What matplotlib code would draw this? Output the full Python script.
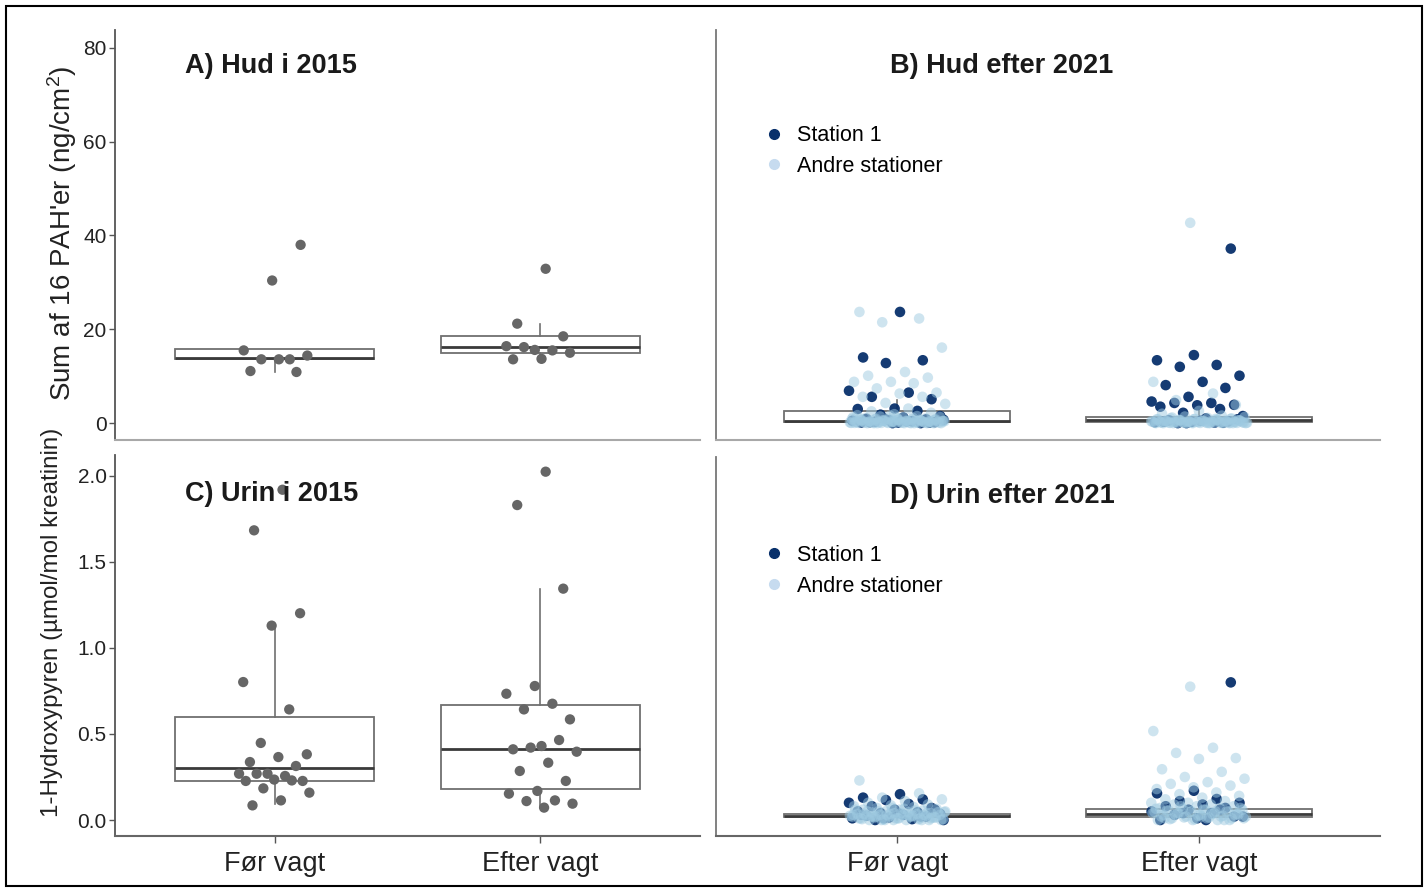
import numpy as np
import matplotlib
matplotlib.use("Agg")
import matplotlib.pyplot as plt
from matplotlib.lines import Line2D
from matplotlib.patches import Rectangle

plt.rcParams['font.family'] = ['Liberation Sans', 'DejaVu Sans']
plt.rcParams['mathtext.fontset'] = 'custom'
plt.rcParams['mathtext.rm'] = 'Liberation Sans'
plt.rcParams['mathtext.it'] = 'Liberation Sans:italic'

# ---- data ----
groups = ["Før vagt", "Efter vagt"]

# A) skin 2015
hud15_for = [38.0, 30.4, 15.5, 13.6, 13.6, 14.4, 13.6, 11.1, 10.9]
hud15_efter = [32.9, 21.2, 18.5, 15.6, 16.4, 15.5, 16.2, 15.0, 13.7, 13.6]

# C) urine 2015
urin15_for = [1.92, 1.684, 1.202, 1.130, 0.802, 0.643, 0.448, 0.382, 0.366, 0.337,
              0.314, 0.269, 0.269, 0.256, 0.269, 0.227, 0.235, 0.227, 0.23, 0.184,
              0.159, 0.114, 0.085]
urin15_efter = [2.025, 1.831, 1.345, 0.779, 0.734, 0.676, 0.643, 0.585, 0.430, 0.411,
                0.465, 0.421, 0.397, 0.333, 0.285, 0.227, 0.169, 0.153, 0.114, 0.11,
                0.095, 0.072]

# B) skin after 2021
hud21_for_st1 = [23.7, 14.0, 13.4, 12.8, 6.9, 6.5, 5.6, 5.1, 3.1, 3.0, 2.6, 1.8,
                 1.5, 1.2, 0.9, 0.8, 0.6, 0.5, 0.4, 0.3, 0.2, 0.1, 0.1, 0.0,
                 1.0, 0.7, 0.4, 0.2, 0.1, 0.0]
hud21_for_andre = [23.7, 22.3, 21.5, 16.1, 10.9, 10.1, 9.7, 8.8, 8.8, 8.5, 7.4, 6.5,
                   6.3, 5.6, 5.6, 4.3, 4.1, 3.1, 2.5, 2.2, 1.9, 1.7, 1.5, 1.4, 1.3,
                   1.2, 1.1, 1.0, 0.9, 0.9, 0.8, 0.8, 0.7, 0.7, 0.6, 0.6, 0.5, 0.5,
                   0.5, 0.4, 0.4, 0.4, 0.3, 0.3, 0.3, 0.3, 0.2, 0.2, 0.2, 0.2, 0.15,
                   0.1, 0.1, 0.1, 0.1, 0.05, 0.05, 0.05, 0.0, 0.0, 0.0, 0.0,
                   1.6, 1.3, 1.1, 0.9, 0.8, 0.7, 0.6, 0.5, 0.5, 0.4, 0.4, 0.3, 0.3,
                   0.3, 0.2, 0.2, 0.2, 0.1, 0.1, 0.1, 0.1, 0.05, 0.05, 0.0, 0.0, 0.0,
                   1.2, 0.9, 0.7, 0.6, 0.4, 0.3, 0.2, 0.15, 0.1, 0.05, 0.0, 0.0]
hud21_efter_st1 = [37.2, 14.5, 13.4, 12.4, 12.0, 10.1, 8.8, 8.1, 7.5, 5.6, 4.6, 4.3,
                   4.3, 3.9, 3.8, 3.5, 3.0, 2.2, 1.5, 1.0, 0.6, 0.4, 0.3, 0.2, 0.1, 0.0,
                   0.8, 0.5, 0.3, 0.1, 0.0]
hud21_efter_andre = [42.7, 8.8, 6.3, 4.9, 3.9, 2.6, 2.0, 1.6, 1.4, 1.3, 1.1, 1.0, 0.9,
                     0.8, 0.8, 0.7, 0.6, 0.6, 0.5, 0.5, 0.5, 0.4, 0.4, 0.4, 0.3, 0.3,
                     0.3, 0.3, 0.2, 0.2, 0.2, 0.2, 0.15, 0.1, 0.1, 0.1, 0.1, 0.05,
                     0.05, 0.05, 0.0, 0.0, 0.0, 0.0, 0.0,
                     1.2, 1.0, 0.9, 0.8, 0.7, 0.6, 0.5, 0.5, 0.4, 0.4, 0.3, 0.3, 0.3,
                     0.2, 0.2, 0.2, 0.1, 0.1, 0.1, 0.1, 0.05, 0.05, 0.0, 0.0, 0.0,
                     0.9, 0.7, 0.6, 0.4, 0.3, 0.2, 0.15, 0.1, 0.05, 0.0, 0.0]

# D) urine after 2021
urin21_for_st1 = [0.15, 0.13, 0.12, 0.116, 0.10, 0.093, 0.08, 0.07, 0.06, 0.05, 0.045,
                  0.04, 0.035, 0.03, 0.025, 0.02, 0.015, 0.01, 0.005, 0.0,
                  0.06, 0.04, 0.03, 0.02, 0.01, 0.0]
urin21_for_andre = [0.23, 0.155, 0.13, 0.12, 0.11, 0.10, 0.09, 0.085, 0.08, 0.075,
                    0.07, 0.065, 0.06, 0.06, 0.055, 0.05, 0.05, 0.045, 0.045, 0.04,
                    0.04, 0.035, 0.035, 0.03, 0.03, 0.03, 0.025, 0.025, 0.02, 0.02,
                    0.02, 0.015, 0.015, 0.01, 0.01, 0.01, 0.005, 0.005, 0.0, 0.0, 0.0,
                    0.07, 0.06, 0.055, 0.05, 0.045, 0.04, 0.035, 0.03, 0.03, 0.025,
                    0.02, 0.02, 0.015, 0.01, 0.01, 0.005, 0.0, 0.0,
                    0.065, 0.05, 0.04, 0.035, 0.03, 0.025, 0.02, 0.015, 0.01, 0.005,
                    0.0, 0.0, 0.045, 0.03, 0.02, 0.01, 0.0]
urin21_efter_st1 = [0.80, 0.17, 0.155, 0.122, 0.11, 0.10, 0.09, 0.08, 0.07, 0.06,
                    0.05, 0.04, 0.03, 0.02, 0.01, 0.0, 0.06, 0.04, 0.02, 0.0]
urin21_efter_andre = [0.775, 0.517, 0.42, 0.39, 0.36, 0.355, 0.295, 0.28, 0.25, 0.24,
                      0.22, 0.21, 0.20, 0.19, 0.18, 0.16, 0.15, 0.14, 0.13, 0.12,
                      0.11, 0.10, 0.10, 0.09, 0.09, 0.08, 0.08, 0.07, 0.07, 0.065,
                      0.06, 0.06, 0.055, 0.05, 0.05, 0.045, 0.04, 0.04, 0.035, 0.03,
                      0.03, 0.025, 0.02, 0.02, 0.015, 0.01, 0.01, 0.005, 0.0, 0.0,
                      0.08, 0.07, 0.06, 0.055, 0.05, 0.045, 0.04, 0.035, 0.03, 0.03,
                      0.025, 0.02, 0.02, 0.015, 0.01, 0.01, 0.005, 0.0, 0.0,
                      0.065, 0.05, 0.04, 0.03, 0.02, 0.01, 0.0]

# box statistics: (whislo, q1, med, q3, whishi)
box_hud15 = [(11.0, 13.7, 13.9, 15.7, 15.7), (13.6, 15.0, 16.2, 18.5, 21.2)]
box_urin15 = [(0.095, 0.227, 0.300, 0.599, 1.134), (0.076, 0.178, 0.415, 0.669, 1.345)]
box_hud21 = [(0.0, 0.3, 0.5, 2.6, 5.0), (0.0, 0.2, 0.6, 1.3, 3.0)]
box_urin21 = [(0.0, 0.015, 0.025, 0.035, 0.06), (0.0, 0.02, 0.035, 0.065, 0.1)]

GREY_PT = "#666666"
DARK = "#08306B"
LIGHT = "#9ECAE1"

W, H = 1427, 892
fig = plt.figure(figsize=(W / 100, H / 100), dpi=100)


def px_axes(l, t, r, b):
    return fig.add_axes([l / W, 1 - b / H, (r - l) / W, (b - t) / H])


axA = px_axes(115, 30, 700, 440)
axB = px_axes(716, 30, 1380, 440)
axC = px_axes(115, 455, 700, 836)
axD = px_axes(716, 457, 1380, 836)


def jitter(n, half, phase=0.0):
    # deterministic spread of points inside a strip (no random numbers)
    k = np.arange(n)
    return ((k * 0.6180339887 + phase) % 1.0 - 0.5) * 2 * half


def draw_boxes(ax, stats):
    st = [dict(whislo=s[0], q1=s[1], med=s[2], q3=s[3], whishi=s[4], fliers=[])
          for s in stats]
    ax.bxp(st, positions=[1, 2], widths=0.75, showfliers=False, showcaps=False,
           patch_artist=True,
           boxprops=dict(facecolor="white", edgecolor="#707070", linewidth=1.3),
           medianprops=dict(color="#3a3a3a", linewidth=2.0),
           whiskerprops=dict(color="#707070", linewidth=1.2),
           zorder=2)


def style(ax, ylim, yticks, left, bottom_row, bottom_col):
    ax.set_xlim(0.4, 2.6)
    ax.set_ylim(*ylim)
    for s in ["top", "right"]:
        ax.spines[s].set_visible(False)
    ax.spines["bottom"].set_color(bottom_col)
    ax.spines["bottom"].set_linewidth(1.5)
    ax.spines["left"].set_color("#555555" if left else "#777777")
    ax.spines["left"].set_linewidth(1.3)
    if left:
        ax.set_yticks(yticks)
        ax.tick_params(axis="y", labelsize=15, length=4, width=1, color="#555555",
                       labelcolor="#222222", pad=2)
    else:
        ax.set_yticks([])
    if bottom_row:
        ax.set_xticks([1, 2])
        ax.set_xticklabels(groups)
        ax.tick_params(axis="x", labelsize=19.5, length=5, width=1, color="#555555",
                       labelcolor="#222222", pad=6)
    else:
        ax.set_xticks([])


def panel_2015(ax, before, after, boxes, phases):
    draw_boxes(ax, boxes)
    for i, vals in enumerate([before, after]):
        x = i + 1 + jitter(len(vals), 0.14, phases[i])
        ax.scatter(x, vals, s=55, color=GREY_PT, edgecolors="none", zorder=3)


def panel_2021(ax, data, boxes):
    draw_boxes(ax, boxes)
    for i, (st1, andre) in enumerate(data):
        xa = i + 1 + jitter(len(andre), 0.16, 0.11 + 0.3 * i)
        xs = i + 1 + jitter(len(st1), 0.16, 0.53 + 0.3 * i)
        ax.scatter(xs, st1, s=58, color=DARK, alpha=0.95, edgecolors="none", zorder=3)
        ax.scatter(xa, andre, s=58, color=LIGHT, alpha=0.5, edgecolors="none", zorder=4)
    handles = [Line2D([], [], marker="o", ls="", color=DARK, markersize=7),
               Line2D([], [], marker="o", ls="", color="#C6DBEF", markersize=7)]
    ax.legend(handles, ["Station 1", "Andre stationer"], loc="upper left",
              bbox_to_anchor=(0.077, 0.768), frameon=False, fontsize=15.5,
              handlelength=0.6, handletextpad=0.8, labelspacing=0.45,
              borderpad=0, borderaxespad=0)


panel_2015(axA, hud15_for, hud15_efter, box_hud15, (0.85, 0.57))
panel_2015(axC, urin15_for, urin15_efter, box_urin15, (0.607, 0.57))
panel_2021(axB, [(hud21_for_st1, hud21_for_andre), (hud21_efter_st1, hud21_efter_andre)],
           box_hud21)
panel_2021(axD, [(urin21_for_st1, urin21_for_andre), (urin21_efter_st1, urin21_efter_andre)],
           box_urin21)

hud_lim = (-3.6, 83.8)
urin_lim = (-0.093, 2.122)
style(axA, hud_lim, [0, 20, 40, 60, 80], True, False, "#a8a8a8")
style(axB, hud_lim, [], False, False, "#a8a8a8")
style(axC, urin_lim, [0.0, 0.5, 1.0, 1.5, 2.0], True, True, "#666666")
style(axD, (-0.093, 2.110), [], False, True, "#666666")
axC.set_yticklabels(["0.0", "0.5", "1.0", "1.5", "2.0"])

title_kw = dict(fontsize=19.5, fontweight="bold", color="#1a1a1a", va="center",
                ha="left", zorder=6)
axA.text(0.12, 0.912, "A) Hud i 2015", transform=axA.transAxes, **title_kw)
axB.text(0.262, 0.912, "B) Hud efter 2021", transform=axB.transAxes, **title_kw)
axC.text(0.12, 0.898, "C) Urin i 2015", transform=axC.transAxes, **title_kw)
axD.text(0.262, 0.898, "D) Urin efter 2021", transform=axD.transAxes, **title_kw)

fig.text(62 / W, 1 - 233 / H, "Sum af 16 PAH'er (ng/cm$^2$)", rotation=90,
         ha="center", va="center", fontsize=20, color="#222222")
fig.text(52 / W, 1 - 622 / H, "1-Hydroxypyren (µmol/mol kreatinin)", rotation=90,
         ha="center", va="center", fontsize=17.4, color="#222222")

fig.patches.append(Rectangle((6 / W, 6 / H), (1422 - 6) / W, (886 - 6) / H,
                             transform=fig.transFigure, fill=False,
                             edgecolor="black", linewidth=1.5))

fig.savefig("out.png", dpi=100)
